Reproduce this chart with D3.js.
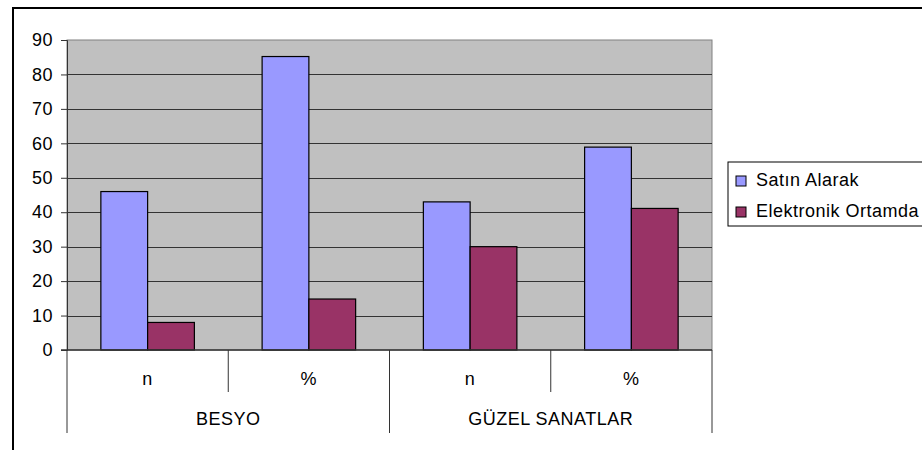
<!DOCTYPE html>
<html>
<head>
<meta charset="utf-8">
<script src="https://cdn.jsdelivr.net/npm/d3@7"></script>
<style>
  body { margin: 0; background: #fff; }
  svg { font-family: "Liberation Sans", Arial, sans-serif; }
  svg text { letter-spacing: 0.5px; }
</style>
</head>
<body>
<svg id="chart" width="922" height="450"></svg>
<script>
// Data
var groups = ["BESYO", "GÜZEL SANATLAR"];
var subCats = ["n", "%"];
var seriesNames = ["Satın Alarak", "Elektronik Ortamda"];
var satinAlarak = [46, 85.2, 43, 58.9];
var elektronik = [8, 14.8, 30, 41.1];
var yTicks = [0, 10, 20, 30, 40, 50, 60, 70, 80, 90];
var colors = ["#9999ff", "#993366"];

var margin = { top: 40, left: 67 };
var plotW = 645, plotH = 310;
var fontSize = 18;

var svg = d3.select("#chart");

// outer frame (runs past the right/bottom edge like the original)
svg.append("rect")
  .attr("x", 13).attr("y", 8).attr("width", 940).attr("height", 480)
  .attr("fill", "none").attr("stroke", "#000").attr("stroke-width", 2);

var g = svg.append("g")
  .attr("transform", "translate(" + margin.left + "," + margin.top + ")");

// category keys: one per (group, sub) pair
var cats = [];
groups.forEach(function(gr) {
  subCats.forEach(function(s) { cats.push(gr + "|" + s); });
});

var x0 = d3.scaleBand().domain(cats).range([0, plotW]).paddingInner(0).paddingOuter(0);
var x1 = d3.scaleBand().domain([0, 1]).range([x0.bandwidth() * 0.21, x0.bandwidth() * 0.79]);
var y = d3.scaleLinear().domain([0, 90]).range([plotH, 0]);

// plot background
g.append("rect")
  .attr("width", plotW).attr("height", plotH)
  .attr("fill", "#c0c0c0").attr("stroke", "#808080").attr("stroke-width", 1);

// gridlines
g.selectAll(".grid")
  .data(yTicks.filter(function(t) { return t > 0 && t < 90; }))
  .enter().append("line")
  .attr("x1", 0).attr("x2", plotW)
  .attr("y1", function(d) { return Math.round(y(d)) + 0.5; })
  .attr("y2", function(d) { return Math.round(y(d)) + 0.5; })
  .attr("stroke", "#333").attr("stroke-width", 1.2);

// bars
var rows = cats.map(function(c, i) {
  return { cat: c, vals: [satinAlarak[i], elektronik[i]] };
});
var cg = g.selectAll(".cat").data(rows).enter().append("g")
  .attr("transform", function(d) { return "translate(" + x0(d.cat) + ",0)"; });
cg.selectAll("rect")
  .data(function(d) { return d.vals.map(function(v, k) { return { k: k, v: v }; }); })
  .enter().append("rect")
  .attr("x", function(d) { return x1(d.k); })
  .attr("width", x1.bandwidth())
  .attr("y", function(d) { return y(d.v); })
  .attr("height", function(d) { return plotH - y(d.v); })
  .attr("fill", function(d) { return colors[d.k]; })
  .attr("stroke", "#000").attr("stroke-width", 1.2);

// y axis
var yAxis = d3.axisLeft(y).tickValues(yTicks).tickSize(6).tickPadding(8);
var ya = g.append("g").call(yAxis);
ya.select(".domain").attr("stroke", "#333");
ya.selectAll(".tick line").attr("stroke", "#333");
ya.selectAll("text").attr("font-size", fontSize).attr("fill", "#000")
  .attr("font-family", "Liberation Sans, Arial, sans-serif");

// x axis: baseline and category separators
g.append("line")
  .attr("x1", -6).attr("x2", plotW).attr("y1", plotH).attr("y2", plotH)
  .attr("stroke", "#333").attr("stroke-width", 1.5);

var bounds = d3.range(cats.length + 1).map(function(i) { return i * x0.bandwidth(); });
g.selectAll(".sep").data(bounds).enter().append("line")
  .attr("x1", function(d) { return d; }).attr("x2", function(d) { return d; })
  .attr("y1", plotH)
  .attr("y2", function(d, i) { return i % subCats.length === 0 ? plotH + 83 : plotH + 42; })
  .attr("stroke", "#333").attr("stroke-width", 1);

g.selectAll(".sublabel").data(cats).enter().append("text")
  .attr("x", function(d) { return x0(d) + x0.bandwidth() / 2; })
  .attr("y", plotH + 35)
  .attr("text-anchor", "middle").attr("font-size", fontSize)
  .text(function(d) { return d.split("|")[1]; });

g.selectAll(".grouplabel").data(groups).enter().append("text")
  .attr("x", function(d, i) { return (i + 0.5) * x0.bandwidth() * subCats.length; })
  .attr("y", plotH + 75)
  .attr("text-anchor", "middle").attr("font-size", fontSize)
  .text(function(d) { return d; });

// legend
var leg = svg.append("g").attr("transform", "translate(728,162)");
leg.append("rect")
  .attr("width", 230).attr("height", 64)
  .attr("fill", "#fff").attr("stroke", "#000").attr("stroke-width", 1);
var li = leg.selectAll(".li").data(seriesNames).enter().append("g")
  .attr("transform", function(d, i) { return "translate(8," + (14 + i * 31) + ")"; });
li.append("rect").attr("width", 10).attr("height", 10)
  .attr("fill", function(d, i) { return colors[i]; })
  .attr("stroke", "#000").attr("stroke-width", 1);
li.append("text").attr("x", 20).attr("y", 10).attr("font-size", fontSize)
  .text(function(d) { return d; });
</script>
</body>
</html>
